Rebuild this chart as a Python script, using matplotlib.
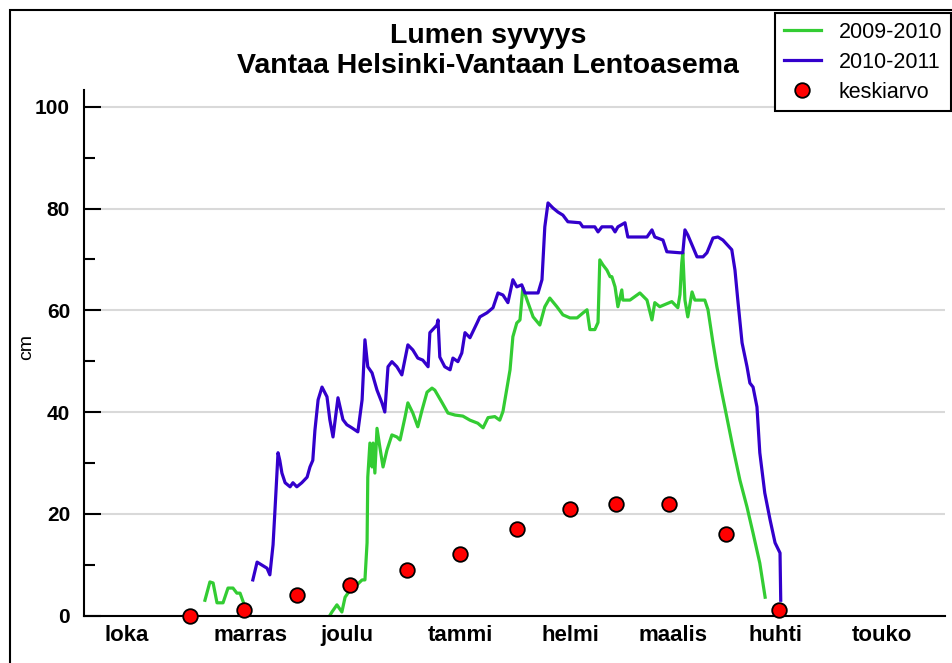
import numpy as np
import matplotlib
matplotlib.use("Agg")
import matplotlib.pyplot as plt
from matplotlib.patches import Rectangle

plt.rcParams['font.family'] = ['Liberation Sans', 'DejaVu Sans']

# x values are days counted from 1 October
months = ['loka', 'marras', 'joulu', 'tammi', 'helmi', 'maalis', 'huhti', 'touko']
month_pos = [12, 47, 74, 106, 137, 166, 195, 225]

mean_days = [30, 45, 60, 75, 91, 106, 122, 137, 150, 165, 181, 196]
mean_cm = [0, 1, 4, 6, 9, 12, 17, 21, 22, 22, 16, 1]

# 2009-2010 (nan = no snow between the two periods)
green_days = [34.1, 35.5, 36.4, 37.5, 39.2, 40.6, 42.0, 43.1, 44.0, 45.4, 45.9, np.nan,
              69.3, 69.9, 71.3, 72.7, 73.6, 75.0, 76.9, 78.4, 79.2, 79.8, 80.0, 80.6,
              81.2, 81.5, 82.0, 82.6, 83.4, 84.3, 85.4, 86.8, 88.2, 89.1, 90.5, 91.3,
              92.7, 94.1, 95.3, 96.7, 98.1, 98.9, 100.9, 102.6, 104.6, 106.8, 108.8,
              111.0, 112.5, 113.9, 115.8, 117.2, 118.1, 119.2, 120.1, 120.9, 122.0,
              122.9, 123.7, 124.9, 126.6, 128.5, 129.9, 131.3, 133.3, 135.0, 137.0,
              139.0, 140.7, 141.8, 142.6, 144.0, 144.9, 145.4, 146.3, 147.4, 148.3,
              148.8, 149.7, 150.5, 151.6, 151.9, 153.9, 156.7, 158.7, 160.1, 160.9,
              162.3, 165.7, 167.4, 168.0, 168.5, 168.8, 169.4, 170.2, 171.4, 172.2,
              175.0, 175.9, 177.3, 178.4, 179.8, 181.2, 182.9, 184.9, 186.9, 188.6,
              190.5, 192.0]
green_cm = [3.0, 6.6, 6.4, 2.5, 2.5, 5.4, 5.4, 4.4, 4.4, 1.7, 1.1, np.nan,
            0.0, 0.7, 2.1, 0.7, 3.6, 5.0, 6.0, 7.0, 7.0, 14.3, 27.2, 33.9,
            29.2, 33.9, 28.0, 36.8, 33.1, 29.2, 32.5, 35.5, 35.1, 34.5, 39.0, 41.8,
            39.8, 37.1, 40.4, 43.9, 44.7, 44.3, 41.9, 39.8, 39.4, 39.2, 38.4,
            37.8, 36.9, 38.9, 39.1, 38.4, 40.1, 44.6, 48.3, 54.8, 57.5,
            58.1, 64.4, 62.0, 58.7, 57.1, 60.7, 62.4, 60.7, 59.1, 58.5,
            58.5, 59.5, 60.1, 56.2, 56.2, 57.6, 69.9, 68.9, 67.9, 66.6,
            66.6, 64.6, 60.7, 64.0, 62.0, 62.0, 63.4, 62.0, 58.1, 61.5,
            60.7, 61.7, 60.5, 63.1, 69.3, 71.3, 62.0, 58.7, 63.6, 62.0,
            62.0, 60.1, 53.6, 48.9, 43.8, 39.0, 33.1, 26.6, 21.3, 16.2,
            10.3, 3.6]

# 2010-2011
blue_days = [47.6, 48.8, 50.2, 51.6, 52.4, 53.3, 53.8, 54.4, 54.7, 55.2, 55.8, 56.7,
             58.1, 58.9, 60.0, 61.4, 62.9, 63.7, 64.5, 65.1, 66.0, 67.1, 68.5, 69.3,
             70.2, 71.6, 73.0, 74.1, 75.5, 77.2, 78.4, 79.2, 80.0, 81.2, 82.6, 84.0,
             84.8, 85.7, 86.8, 88.2, 89.6, 91.3, 92.7, 94.1, 95.5, 97.0, 97.5, 99.5,
             99.8, 100.3, 101.7, 103.2, 104.0, 105.4, 106.5, 107.4, 108.8, 110.8,
             111.6, 113.6, 115.3, 116.7, 118.1, 119.5, 120.9, 122.0, 123.4, 124.3,
             128.0, 129.1, 129.4, 129.9, 130.8, 132.2, 133.6, 135.0, 136.4, 139.8,
             140.6, 144.0, 144.9, 146.0, 148.8, 149.7, 150.5, 152.5, 153.3, 158.7,
             160.1, 160.9, 163.2, 164.3, 168.0, 168.8, 169.4, 170.2, 171.6, 172.8,
             174.5, 175.6, 177.3, 178.7, 180.1, 182.6, 183.5, 184.3, 185.5, 186.9,
             187.7, 188.6, 189.7, 190.5, 191.9, 193.4, 194.8, 196.2, 196.4]
blue_cm = [7.0, 10.5, 9.9, 9.3, 8.0, 13.9, 20.2, 28.0, 32.0, 30.5, 28.0, 26.1,
           25.3, 26.1, 25.3, 26.1, 27.2, 29.2, 30.5, 36.4, 42.4, 44.9, 43.0, 38.5,
           35.1, 42.8, 38.5, 37.5, 36.9, 36.1, 42.4, 54.2, 48.9, 47.7, 44.3, 41.8,
           40.0, 48.9, 49.9, 48.9, 47.3, 53.2, 52.2, 50.6, 50.2, 48.9, 55.6, 57.1,
           58.1, 50.8, 48.9, 48.3, 50.6, 49.9, 51.6, 55.6, 54.6, 57.5,
           58.7, 59.5, 60.5, 63.4, 63.0, 61.5, 66.0, 64.6, 65.0, 63.4,
           63.4, 66.0, 69.9, 76.4, 81.1, 80.1, 79.3, 78.7, 77.4, 77.2,
           76.4, 76.4, 75.4, 76.4, 76.4, 75.4, 76.4, 77.2, 74.4, 74.4,
           75.8, 74.4, 73.8, 71.5, 71.3, 71.3, 75.8, 74.8, 72.5, 70.5,
           70.5, 71.3, 74.2, 74.4, 73.8, 71.9, 67.9, 62.0, 53.6, 48.9,
           45.7, 44.9, 41.0, 32.0, 24.1, 18.8, 14.3, 12.3, 3.0]

fig = plt.figure(figsize=(9.53, 6.63), dpi=100)
ax = fig.add_axes([0.0881, 0.0716, 0.9035, 0.7927])

l1, = ax.plot(green_days, green_cm, color='#33cc33', lw=2.3, label='2009-2010')
l2, = ax.plot(blue_days, blue_cm, color='#3300cc', lw=2.3, label='2010-2011')
l3, = ax.plot(mean_days, mean_cm, 'o', color='#ff0000', mec='black', mew=1.3,
              ms=10.5, clip_on=False, zorder=5, label='keskiarvo')

ax.set_xlim(0, 242.7)
ax.set_ylim(0, 103.3)

ax.spines['top'].set_visible(False)
ax.spines['right'].set_visible(False)
ax.spines['left'].set_linewidth(1.5)
ax.spines['bottom'].set_linewidth(1.5)

yt = list(range(0, 101, 20))
ax.set_yticks(yt, labels=[str(v) for v in yt], fontweight='bold', fontsize=15)
ax.set_yticks(list(range(10, 100, 20)), minor=True)
ax.tick_params(axis='y', which='major', direction='in', length=12, width=1.5, pad=10)
ax.tick_params(axis='y', which='minor', direction='in', length=8, width=1.5)
ax.set_xticks(month_pos, labels=months, fontweight='bold', fontsize=16)
ax.tick_params(axis='x', length=0, pad=7)
ax.yaxis.grid(True, color='#d9d9d9', lw=1.5)
ax.set_axisbelow(True)

fig.text(27 / 953, 1 - 347 / 663, 'cm', rotation=90, ha='center', va='center', fontsize=14)
fig.text(488 / 953, 1 - 36 / 663, 'Lumen syvyys', ha='center', va='center',
         fontsize=20.5, fontweight='bold')
fig.text(488 / 953, 1 - 66 / 663, 'Vantaa Helsinki-Vantaan Lentoasema', ha='center',
         va='center', fontsize=20.5, fontweight='bold')

# outer frame
fig.add_artist(Rectangle((10 / 953, -0.1), 1.2, 1.1 - 10 / 663, transform=fig.transFigure,
                         fill=False, ec='black', lw=1.5, zorder=1))

leg = fig.legend([l1, l2, l3], ['2009-2010', '2010-2011', 'keskiarvo'], loc='upper right',
                 bbox_to_anchor=(951 / 953, 1 - 13 / 663), fontsize=15.5, numpoints=1,
                 handlelength=1.72, handletextpad=0.84, labelspacing=0.42,
                 fancybox=False, framealpha=1, edgecolor='black', borderaxespad=0)
leg.get_frame().set_linewidth(1.5)

fig.savefig('out.png', dpi=100)
